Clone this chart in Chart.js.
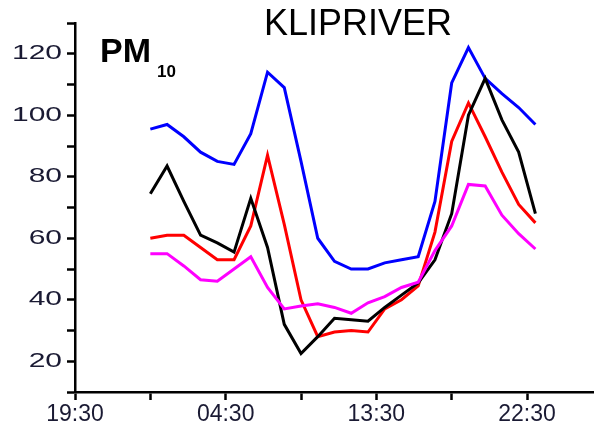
<!DOCTYPE html>
<html>
<head>
<meta charset="utf-8">
<title>KLIPRIVER PM10</title>
<script src="https://cdn.jsdelivr.net/npm/chart.js@4"></script>
<style>
  html, body { margin: 0; padding: 0; background: #fff; }
  #wrap { width: 594px; height: 431px; position: relative; }
</style>
</head>
<body>
<div id="wrap"><canvas id="myChart"></canvas></div>
<script>
// hour of day of each reading (00:00 .. 23:00)
const hours = [0,1,2,3,4,5,6,7,8,9,10,11,12,13,14,15,16,17,18,19,20,21,22,23];

const blueValues    = [95.5,97,93,88,85,84,94,114,109,85,60,52.5,50,50,52,53,54,72,110.5,122,112,107,102.5,97];
const blackValues   = [74.5,83.5,72,61,58.5,55.5,73,57,32,22.5,28,34,33.5,33,37.5,41.5,45.5,53,68,100,112,98.5,88,68];
const redValues     = [60,61,61,57,53,53,64,87,64.5,40,28,29.5,30,29.5,37,40,44.5,62,91.5,104,93,81.5,71,65];
const magentaValues = [55,55,51,46.5,46,50,54,44,37,38,38.7,37.5,35.6,39,41,44,45.7,56,64,77.5,77,67.5,61.5,56.5];

const xTickLabels = ["19:30", "04:30", "13:30", "22:30"];
const yTickLabels = [20, 40, 60, 80, 100, 120];

// x axis counts hours from 19:30 of the day before
const startOffset = 4.5;

function toPoints(values) {
  return values.map(function (v, i) { return { x: hours[i] + startOffset, y: v }; });
}

// title, PM10 tag and the wide y labels of the original
const textLabels = {
  id: "textLabels",
  afterDraw: function (chart) {
    const ctx = chart.ctx;
    const yScale = chart.scales.y;
    ctx.save();
    ctx.fillStyle = "#1a1a33";
    ctx.font = '20px "Liberation Sans", Arial, sans-serif';
    ctx.textAlign = "right";
    ctx.textBaseline = "middle";
    yTickLabels.forEach(function (v) {
      ctx.save();
      ctx.translate(chart.chartArea.left - 13, yScale.getPixelForValue(v));
      ctx.scale(1.5, 1);
      ctx.fillText(String(v), 0, 0);
      ctx.restore();
    });

    ctx.fillStyle = "#000";
    ctx.textBaseline = "alphabetic";
    ctx.textAlign = "center";
    ctx.font = '36px "Liberation Sans", Arial, sans-serif';
    ctx.fillText("KLIPRIVER", 358, 35);
    ctx.textAlign = "left";
    ctx.font = 'bold 34px "Liberation Sans", Arial, sans-serif';
    ctx.fillText("PM", 100, 62);
    ctx.font = 'bold 17px "Liberation Sans", Arial, sans-serif';
    ctx.fillText("10", 157, 77);
    ctx.restore();
  }
};

function line(values, color) {
  return {
    data: toPoints(values),
    borderColor: color,
    borderWidth: 3,
    pointRadius: 0,
    tension: 0,
    fill: false
  };
}

new Chart("myChart", {
  type: "line",
  data: {
    datasets: [
      line(magentaValues, "#ff00ff"),
      line(blackValues, "#000000"),
      line(redValues, "#ff0000"),
      line(blueValues, "#0000ff")
    ]
  },
  options: {
    responsive: true,
    maintainAspectRatio: false,
    animation: false,
    layout: { padding: { top: 23, right: 0, left: 0, bottom: 0 } },
    plugins: {
      legend: { display: false },
      tooltip: { enabled: false }
    },
    scales: {
      x: {
        type: "linear",
        min: 0,
        max: 31,
        border: { display: true, color: "#000", width: 2.5 },
        grid: { drawOnChartArea: false, drawTicks: true, tickLength: 8, tickColor: "#000", tickWidth: 2.5 },
        ticks: {
          stepSize: 4.5,
          includeBounds: false,
          autoSkip: false,
          maxRotation: 0,
          padding: 1,
          color: "#1a1a33",
          font: { family: '"Liberation Sans", Arial, sans-serif', size: 23 },
          callback: function (value) {
            const idx = value / 9;
            return Number.isInteger(idx) && xTickLabels[idx] ? xTickLabels[idx] : "";
          }
        },
        afterFit: function (scale) { scale.height = 39; }
      },
      y: {
        min: 10,
        max: 130,
        border: { display: true, color: "#000", width: 2.5 },
        grid: { drawOnChartArea: false, drawTicks: true, tickLength: 8, tickColor: "#000", tickWidth: 2.5 },
        ticks: {
          stepSize: 10,
          autoSkip: false,
          display: false
        },
        afterFit: function (scale) { scale.width = 75; }
      }
    }
  },
  plugins: [textLabels]
});
</script>
</body>
</html>
